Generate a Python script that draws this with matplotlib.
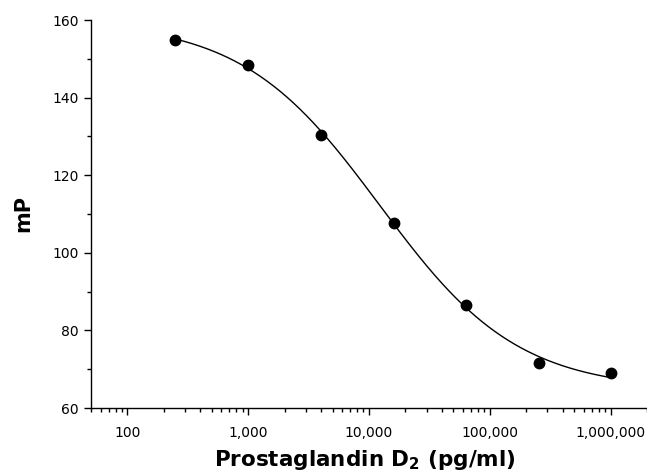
import numpy as np
import matplotlib
matplotlib.use("Agg")
import matplotlib.pyplot as plt
from matplotlib.ticker import FuncFormatter, LogLocator, MultipleLocator

conc = [250, 1000, 4000, 16000, 64000, 256000, 1000000]
mp = [154.8, 148.4, 130.4, 107.7, 86.5, 71.5, 68.9]
x_ticks = [100, 1000, 10000, 100000, 1000000]
y_ticks = [60, 80, 100, 120, 140, 160]

# 4PL fit: grid over log EC50 and hill, linear least squares for top/bottom
lx = np.log10(np.array(conc, float))
yv = np.array(mp, float)
best = None
for lec in np.linspace(3.0, 5.5, 251):
    for h in np.linspace(0.3, 2.0, 171):
        s = 1.0 / (1.0 + 10 ** ((lx - lec) * h))
        A = np.column_stack([np.ones_like(s) - s, s])
        coef, *_ = np.linalg.lstsq(A, yv, rcond=None)
        r = np.sum((A @ coef - yv) ** 2)
        if best is None or r < best[0]:
            best = (r, lec, h, coef)
_, lec, h, (bottom, top) = best
xc = np.logspace(np.log10(conc[0]), np.log10(conc[-1]), 400)
sc = 1.0 / (1.0 + 10 ** ((np.log10(xc) - lec) * h))
yc = bottom + (top - bottom) * sc

fig = plt.figure(figsize=(6.47, 4.75), dpi=100)
ax = fig.add_axes([91/647, 1-408/475, 1-91/647, (408-20)/475])
ax.plot(xc, yc, color="black", lw=1.0)
ax.plot(conc, mp, "o", color="black", ms=7.5)
ax.set_xscale("log")
ax.set_xlim(50, 2.0e6)
ax.set_ylim(60, 160)
ax.set_xticks(x_ticks)
ax.xaxis.set_major_formatter(FuncFormatter(lambda v, p: f"{int(round(v)):,}"))
ax.xaxis.set_minor_locator(LogLocator(base=10, subs=np.arange(2, 10)))
ax.xaxis.set_minor_formatter(FuncFormatter(lambda v, p: ""))
ax.set_yticks(y_ticks)
ax.yaxis.set_minor_locator(MultipleLocator(10))
for s in ["top", "right"]:
    ax.spines[s].set_visible(False)
for s in ["left", "bottom"]:
    ax.spines[s].set_linewidth(1.0)
ax.tick_params(which="major", length=5, width=1.0, labelsize=10, pad=4)
ax.tick_params(which="minor", length=3, width=1.0)
ax.tick_params(axis="x", which="major", pad=8)
ax.set_xlabel("Prostaglandin D$_\\mathbf{2}$ (pg/ml)", fontsize=15.5, fontweight="bold")
ax.xaxis.set_label_coords(0.493, -0.103)
ax.set_ylabel("mP", fontsize=15, fontweight="bold")
ax.yaxis.set_label_coords(-0.104, 0.5)
fig.savefig("out.png", dpi=100)
